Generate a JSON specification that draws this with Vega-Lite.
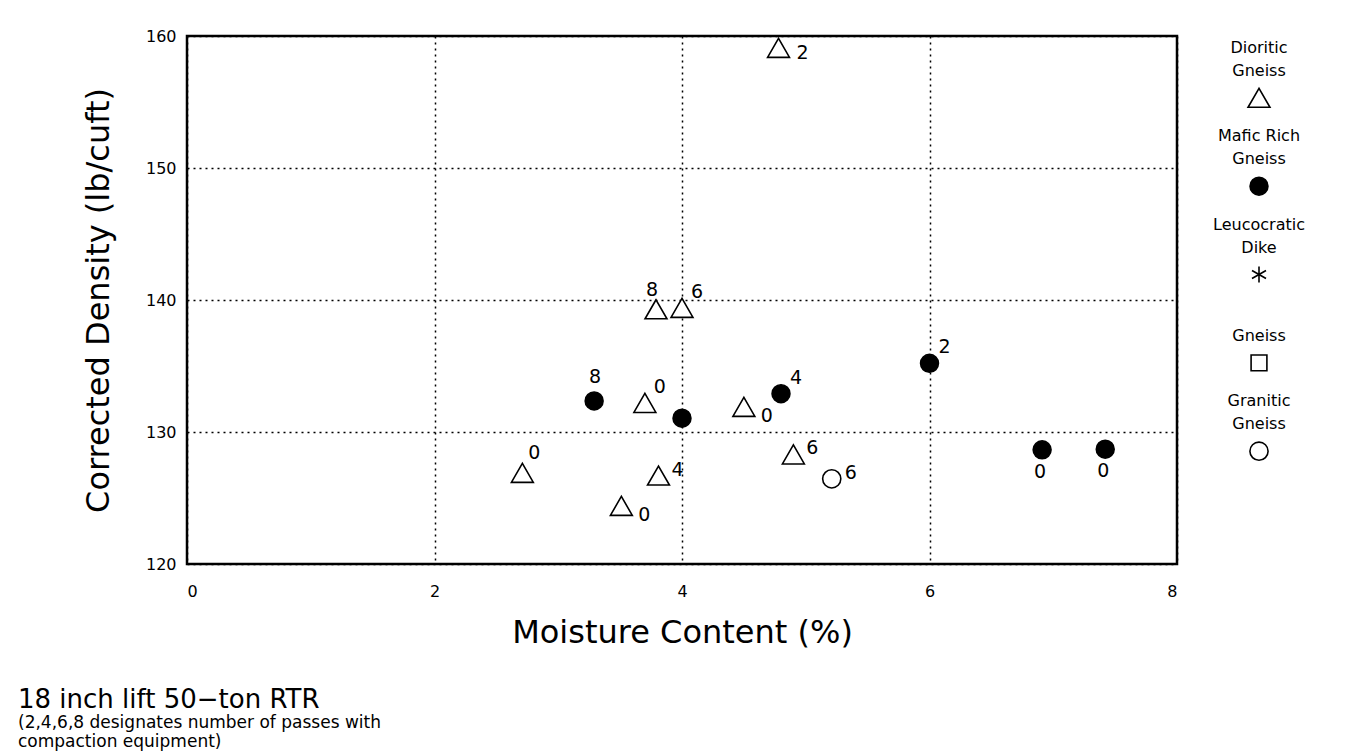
{
  "$schema": "https://vega.github.io/schema/vega-lite/v6.json",
  "background": "white",
  "padding": {"left": 18, "top": 26, "right": 0, "bottom": 0},
  "config": {
    "font": "DejaVu Sans",
    "view": {"stroke": null},
    "axis": {"labelColor": "black", "titleColor": "black", "titleFontWeight": "normal", "labelFont": "DejaVu Sans", "titleFont": "DejaVu Sans"}
  },
  "datasets": {
    "points": [
      {"id": 1, "type": "Dioritic Gneiss", "moisture": 4.78, "density": 159.1, "passes": "2"},
      {"id": 2, "type": "Dioritic Gneiss", "moisture": 3.79, "density": 139.3, "passes": "8"},
      {"id": 3, "type": "Dioritic Gneiss", "moisture": 4.0, "density": 139.4, "passes": "6"},
      {"id": 4, "type": "Mafic Rich Gneiss", "moisture": 3.29, "density": 132.35, "passes": "8"},
      {"id": 5, "type": "Dioritic Gneiss", "moisture": 3.7, "density": 132.2, "passes": "0"},
      {"id": 6, "type": "Dioritic Gneiss", "moisture": 4.5, "density": 131.9, "passes": "0"},
      {"id": 7, "type": "Mafic Rich Gneiss", "moisture": 4.8, "density": 132.9, "passes": "4"},
      {"id": 8, "type": "Mafic Rich Gneiss", "moisture": 6.0, "density": 135.2, "passes": "2"},
      {"id": 9, "type": "Dioritic Gneiss", "moisture": 4.9, "density": 128.3, "passes": "6"},
      {"id": 10, "type": "Granitic Gneiss", "moisture": 5.21, "density": 126.45, "passes": "6"},
      {"id": 11, "type": "Dioritic Gneiss", "moisture": 3.81, "density": 126.7, "passes": "4"},
      {"id": 12, "type": "Dioritic Gneiss", "moisture": 3.51, "density": 124.4, "passes": "0"},
      {"id": 13, "type": "Dioritic Gneiss", "moisture": 2.71, "density": 126.9, "passes": "0"},
      {"id": 14, "type": "Mafic Rich Gneiss", "moisture": 6.91, "density": 128.65, "passes": "0"},
      {"id": 15, "type": "Mafic Rich Gneiss", "moisture": 7.42, "density": 128.7, "passes": "0"},
      {"id": 16, "type": "Mafic Rich Gneiss", "moisture": 4.0, "density": 131.05, "passes": null}
    ],
    "legend": [
      {"type": "Dioritic Gneiss", "upper": "Dioritic", "lower": "Gneiss"},
      {"type": "Mafic Rich Gneiss", "upper": "Mafic Rich", "lower": "Gneiss"},
      {"type": "Leucocratic Dike", "upper": "Leucocratic", "lower": "Dike"},
      {"type": "Gneiss", "upper": null, "lower": "Gneiss"},
      {"type": "Granitic Gneiss", "upper": "Granitic", "lower": "Gneiss"}
    ]
  },
  "title": {
    "text": "18 inch lift 50−ton RTR",
    "subtitle": ["(2,4,6,8 designates number of passes with", "compaction equipment)"],
    "orient": "bottom",
    "anchor": "start",
    "frame": "group",
    "dx": -169,
    "offset": 38,
    "font": "DejaVu Sans",
    "fontSize": 26,
    "fontWeight": "normal",
    "color": "black",
    "subtitleFont": "DejaVu Sans",
    "subtitleFontSize": 17,
    "subtitleColor": "black",
    "subtitlePadding": 2,
    "subtitleLineHeight": 19
  },
  "spacing": 5,
  "hconcat": [
    {
      "width": 990,
      "height": 528,
      "data": {"name": "points"},
      "view": {"stroke": "black", "strokeWidth": 2.5},
      "encoding": {
        "x": {
          "field": "moisture", "type": "quantitative",
          "scale": {"domain": [0, 8], "nice": false, "zero": false},
          "axis": {
            "title": "Moisture Content (%)", "values": [0, 2, 4, 6, 8],
            "grid": true, "gridColor": "black", "gridDash": [2, 4], "gridWidth": 1.5, "gridOpacity": 1,
            "domain": false, "ticks": false, "labelPadding": 19, "labelFontSize": 16,
            "titleFontSize": 32, "titlePadding": 18
          }
        },
        "y": {
          "field": "density", "type": "quantitative",
          "scale": {"domain": [120, 160], "nice": false, "zero": false},
          "axis": {
            "title": "Corrected Density (lb/cuft)", "values": [120, 130, 140, 150, 160],
            "grid": true, "gridColor": "black", "gridDash": [2, 4], "gridWidth": 1.5, "gridOpacity": 1,
            "domain": false, "ticks": false, "labelPadding": 11, "labelFontSize": 16,
            "titleFontSize": 32, "titlePadding": 30
          }
        }
      },
      "layer": [
        {
          "mark": {"type": "point", "filled": true, "stroke": "black", "strokeWidth": 1.6, "opacity": 1},
          "encoding": {
            "shape": {
              "field": "type", "type": "nominal", "legend": null,
              "scale": {
                "domain": ["Dioritic Gneiss", "Mafic Rich Gneiss", "Leucocratic Dike", "Gneiss", "Granitic Gneiss"],
                "range": ["triangle-up", "circle", "M0,-1L0,1M-0.87,-0.5L0.87,0.5M-0.87,0.5L0.87,-0.5", "square", "circle"]
              }
            },
            "fill": {
              "field": "type", "type": "nominal", "legend": null,
              "scale": {
                "domain": ["Dioritic Gneiss", "Mafic Rich Gneiss", "Leucocratic Dike", "Gneiss", "Granitic Gneiss"],
                "range": ["white", "black", "white", "white", "white"]
              }
            },
            "size": {
              "field": "type", "type": "nominal", "legend": null,
              "scale": {
                "type": "ordinal",
                "domain": ["Dioritic Gneiss", "Mafic Rich Gneiss", "Leucocratic Dike", "Gneiss", "Granitic Gneiss"],
                "range": [480, 320, 260, 250, 330]
              }
            }
          }
        },
        {
          "transform": [{"filter": {"field": "id", "oneOf": [1]}}],
          "mark": {"type": "text", "fontSize": 19, "color": "black", "dx": 24, "dy": 5},
          "encoding": {"text": {"field": "passes", "type": "nominal"}}
        },
        {
          "transform": [{"filter": {"field": "id", "oneOf": [9, 10, 11]}}],
          "mark": {"type": "text", "fontSize": 19, "color": "black", "dx": 19, "dy": -6},
          "encoding": {"text": {"field": "passes", "type": "nominal"}}
        },
        {
          "transform": [{"filter": {"field": "id", "oneOf": [3, 5, 7, 8]}}],
          "mark": {"type": "text", "fontSize": 19, "color": "black", "dx": 15, "dy": -16},
          "encoding": {"text": {"field": "passes", "type": "nominal"}}
        },
        {
          "transform": [{"filter": {"field": "id", "oneOf": [13]}}],
          "mark": {"type": "text", "fontSize": 19, "color": "black", "dx": 12, "dy": -20},
          "encoding": {"text": {"field": "passes", "type": "nominal"}}
        },
        {
          "transform": [{"filter": {"field": "id", "oneOf": [6, 12]}}],
          "mark": {"type": "text", "fontSize": 19, "color": "black", "dx": 23, "dy": 9},
          "encoding": {"text": {"field": "passes", "type": "nominal"}}
        },
        {
          "transform": [{"filter": {"field": "id", "oneOf": [2]}}],
          "mark": {"type": "text", "fontSize": 19, "color": "black", "dx": -4, "dy": -19},
          "encoding": {"text": {"field": "passes", "type": "nominal"}}
        },
        {
          "transform": [{"filter": {"field": "id", "oneOf": [4]}}],
          "mark": {"type": "text", "fontSize": 19, "color": "black", "dx": 1, "dy": -24},
          "encoding": {"text": {"field": "passes", "type": "nominal"}}
        },
        {
          "transform": [{"filter": {"field": "id", "oneOf": [14, 15]}}],
          "mark": {"type": "text", "fontSize": 19, "color": "black", "dx": -2, "dy": 22},
          "encoding": {"text": {"field": "passes", "type": "nominal"}}
        }
      ]
    },
    {
      "width": 150,
      "height": 477,
      "data": {"name": "legend"},
      "view": {"stroke": null},
      "encoding": {
        "y": {
          "field": "type", "type": "nominal", "axis": null,
          "scale": {"type": "point", "padding": 0.7, "domain": ["Dioritic Gneiss", "Mafic Rich Gneiss", "Leucocratic Dike", "Gneiss", "Granitic Gneiss"]}
        }
      },
      "layer": [
        {
          "mark": {"type": "point", "filled": true, "stroke": "black", "strokeWidth": 1.6, "opacity": 1},
          "encoding": {
            "shape": {
              "field": "type", "type": "nominal", "legend": null,
              "scale": {
                "domain": ["Dioritic Gneiss", "Mafic Rich Gneiss", "Leucocratic Dike", "Gneiss", "Granitic Gneiss"],
                "range": ["triangle-up", "circle", "M0,-1L0,1M-0.87,-0.5L0.87,0.5M-0.87,0.5L0.87,-0.5", "square", "circle"]
              }
            },
            "fill": {
              "field": "type", "type": "nominal", "legend": null,
              "scale": {
                "domain": ["Dioritic Gneiss", "Mafic Rich Gneiss", "Leucocratic Dike", "Gneiss", "Granitic Gneiss"],
                "range": ["white", "black", "white", "white", "white"]
              }
            },
            "size": {
              "field": "type", "type": "nominal", "legend": null,
              "scale": {
                "type": "ordinal",
                "domain": ["Dioritic Gneiss", "Mafic Rich Gneiss", "Leucocratic Dike", "Gneiss", "Granitic Gneiss"],
                "range": [480, 320, 260, 250, 330]
              }
            }
          }
        },
        {
          "mark": {"type": "text", "baseline": "middle", "dy": -27, "fontSize": 16, "color": "black"},
          "encoding": {"text": {"field": "lower", "type": "nominal"}}
        },
        {
          "transform": [{"filter": "datum.upper != null"}],
          "mark": {"type": "text", "baseline": "middle", "dy": -50, "fontSize": 16, "color": "black"},
          "encoding": {"text": {"field": "upper", "type": "nominal"}}
        }
      ]
    }
  ]
}
